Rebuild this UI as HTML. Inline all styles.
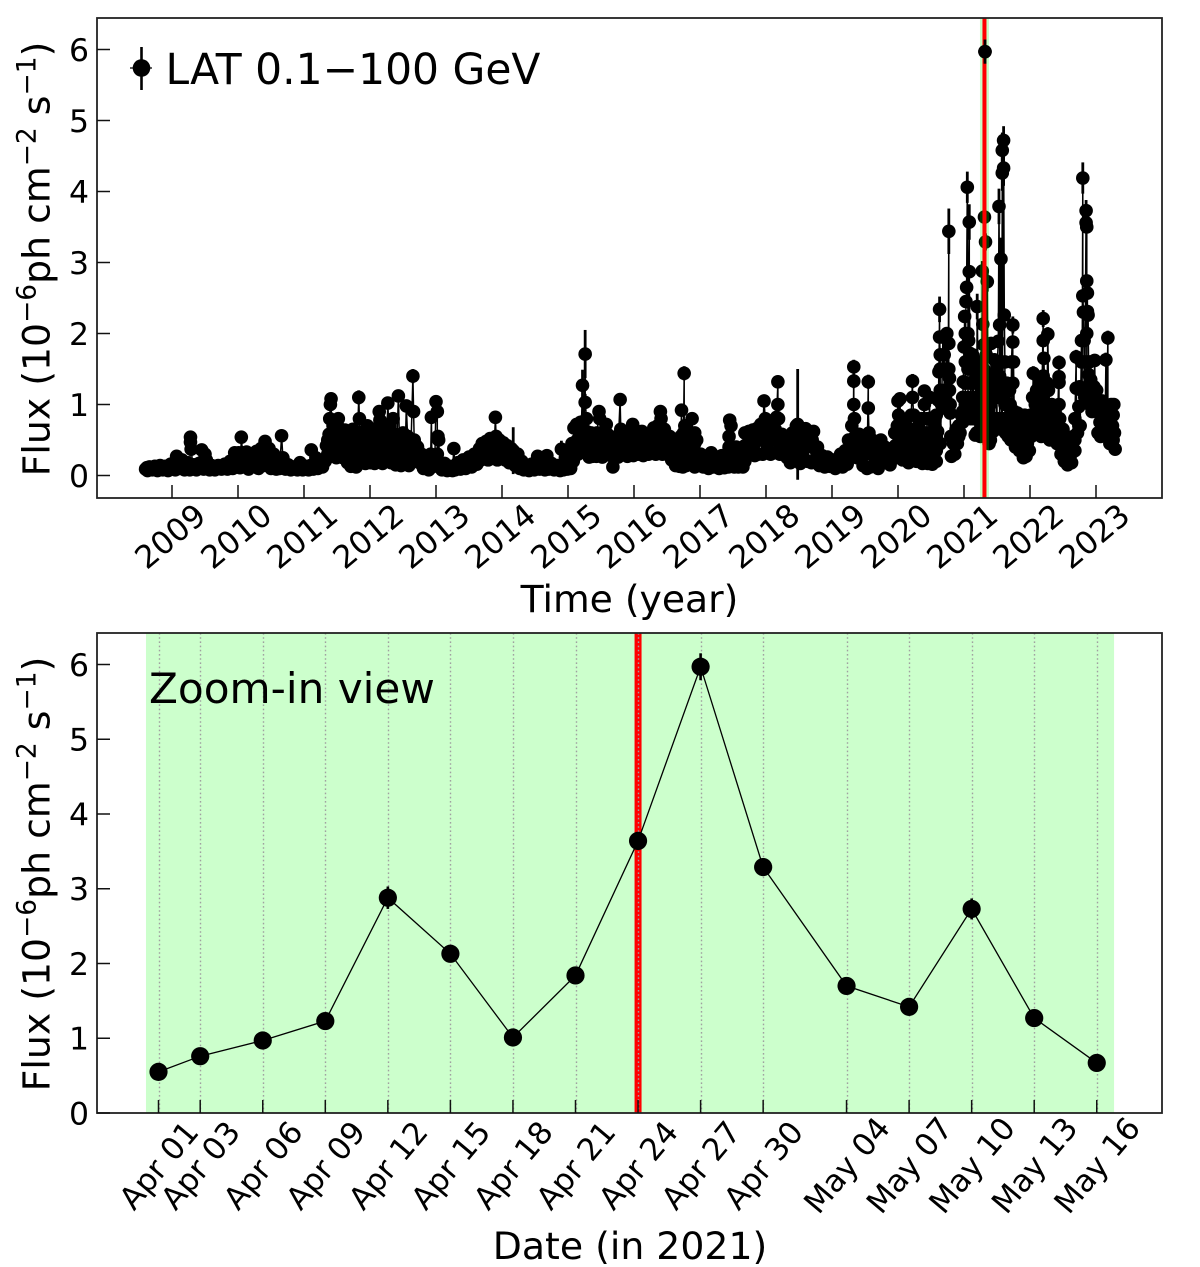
<!DOCTYPE html>
<html lang="en">
<head>
<meta charset="utf-8">
<title>LAT light curve</title>
<style>
html,body{margin:0;padding:0;background:#fff;}
svg{display:block;}
text{font-family:"DejaVu Sans","Liberation Sans",sans-serif;fill:#000;}
</style>
</head>
<body>
<svg id="fig" xmlns="http://www.w3.org/2000/svg" width="1200" height="1267" viewBox="0 0 1200 1267">
  <rect x="0" y="0" width="1200" height="1267" fill="#fff"/>
  <g id="top-marks"></g>
  <g id="bottom-marks"></g>
  <g id="axes-layer"></g>

  <g>
    <line x1="130" x2="152" y1="68" y2="68" stroke="#000" stroke-width="1.2"/>
    <line x1="141.5" x2="141.5" y1="47" y2="90" stroke="#000" stroke-width="2.6"/>
    <circle cx="141.5" cy="68" r="8.8" fill="#000"/>
    <text x="165.5" y="84" font-size="42.4">LAT 0.1−100 GeV</text>
  </g>

  <text x="629.5" y="612" font-size="37.7" text-anchor="middle">Time (year)</text>
  <text transform="translate(49.5,259) rotate(-90)" font-size="37.8" text-anchor="middle">Flux (10<tspan font-size="26.5" dy="-14">−6</tspan><tspan dy="14">ph cm</tspan><tspan font-size="26.5" dy="-14">−2</tspan><tspan dy="14"> s</tspan><tspan font-size="26.5" dy="-14">−1</tspan><tspan dy="14">)</tspan></text>

  <text x="149" y="703" font-size="42.2">Zoom-in view</text>
  <text x="630" y="1259" font-size="37.8" text-anchor="middle">Date (in 2021)</text>
  <text transform="translate(49.5,874) rotate(-90)" font-size="37.8" text-anchor="middle">Flux (10<tspan font-size="26.5" dy="-14">−6</tspan><tspan dy="14">ph cm</tspan><tspan font-size="26.5" dy="-14">−2</tspan><tspan dy="14"> s</tspan><tspan font-size="26.5" dy="-14">−1</tspan><tspan dy="14">)</tspan></text>
</svg>

<script>
// ---- Top panel data: [fraction of year, flux, optional error] ----
const lc2008 = [[.60,.09],[.63,.07],[.66,.12],[.70,.08],[.74,.13],[.78,.07],[.82,.14],[.86,.08],[.90,.13],[.94,.07],[.98,.16],[.62,.11],[.72,.11],[.82,.10],[.92,.11]];
const lc2009 = [[.03,.17],[.05,.08],[.07,.27],[.11,.10],[.15,.22],[.19,.08],[.23,.18],[.27,.08],[.28,.54,.06],[.28,.47],[.29,.37],[.33,.15],[.37,.08],[.41,.17],[.45,.36],[.48,.09],[.50,.30],[.53,.16],[.57,.08],[.60,.14],[.65,.08],[.70,.14],[.75,.09],[.80,.16],[.84,.09],[.88,.20],[.92,.10],[.95,.32],[.98,.12],[.02,.12],[.12,.15],[.22,.13],[.32,.12],[.42,.12],[.47,.20],[.52,.22],[.62,.11],[.72,.11],[.82,.12],[.90,.14],[.95,.20],[.99,.22]];
const lc2010 = [[.01,.32],[.03,.11],[.05,.54,.06],[.07,.32],[.10,.12],[.13,.33],[.16,.09],[.20,.30],[.24,.14],[.28,.34],[.31,.10],[.35,.38],[.38,.14],[.41,.48],[.44,.16],[.47,.38],[.50,.10],[.54,.30],[.58,.09],[.60,.24],[.63,.10],[.66,.56,.06],[.68,.25],[.72,.09],[.76,.15],[.80,.08],[.85,.12],[.90,.08],[.94,.18],[.98,.08],[.04,.20],[.12,.21],[.20,.20],[.28,.20],[.36,.25],[.42,.33],[.46,.28],[.50,.22],[.56,.20],[.62,.15],[.70,.13],[.78,.11],[.86,.11],[.94,.12]];
const lc2011 = [[.03,.13],[.07,.08],[.11,.36,.04],[.14,.09],[.18,.25],[.21,.10],[.25,.20],[.28,.12],[.32,.20],[.34,.42],[.36,.25],[.38,.58],[.39,.80],[.40,1.0],[.41,1.08,.09],[.42,.60],[.44,.28],[.47,.45],[.49,.25],[.52,.80],[.54,.32],[.57,.62],[.59,.25],[.62,.64],[.64,.40],[.66,.18],[.69,.50],[.71,.13],[.74,.65],[.76,.30],[.79,.12],[.81,.60],[.83,1.10,.10],[.84,.80],[.86,.40],[.88,.20],[.91,.62],[.93,.17],[.96,.70],[.98,.35],[.02,.10],[.10,.14],[.20,.16],[.28,.16],[.36,.30],[.36,.50],[.44,.35],[.44,.55],[.44,.70],[.52,.38],[.52,.55],[.52,.68],[.60,.32],[.60,.48],[.68,.20],[.68,.35],[.68,.52],[.76,.20],[.76,.38],[.76,.55],[.84,.22],[.84,.40],[.84,.60],[.92,.30],[.92,.45],[.98,.22],[.98,.50]];
const lc2012 = [[.01,.18],[.03,.65],[.05,.40],[.07,.17],[.10,.60],[.12,.30],[.14,.90],[.15,.78],[.17,.40],[.19,.17],[.22,.70],[.25,.35],[.27,1.02,.09],[.29,.60],[.32,.18],[.35,.80],[.37,.40],[.39,.15],[.41,.55],[.43,1.12,.09],[.45,.35],[.47,.14],[.50,.60],[.53,.30],[.55,.98,.09],[.57,.55],[.59,.14],[.62,.50],[.65,1.40,.10],[.66,.90],[.67,.50],[.69,.22],[.72,.40],[.75,.18],[.78,.30],[.81,.10],[.85,.18],[.89,.08],[.92,.30],[.93,.82,.08],[.95,.13],[.98,.15],[.06,.24],[.06,.40],[.06,.55],[.14,.24],[.14,.40],[.14,.55],[.14,.70],[.22,.24],[.22,.40],[.22,.55],[.30,.24],[.30,.40],[.30,.55],[.30,.70],[.38,.24],[.38,.40],[.38,.58],[.46,.24],[.46,.40],[.46,.55],[.54,.24],[.54,.40],[.54,.55],[.62,.24],[.62,.38],[.70,.30],[.70,.42],[.78,.20],[.86,.12],[.94,.12]];
const lc2013 = [[.00,1.04,.09],[.02,.90],[.03,.55],[.04,.50],[.06,.15],[.09,.08],[.13,.17],[.17,.07],[.21,.13],[.25,.07],[.27,.38,.05],[.29,.08],[.33,.18],[.37,.09],[.41,.22],[.45,.10],[.50,.26],[.54,.12],[.58,.30],[.62,.16],[.66,.38],[.68,.22],[.70,.45],[.73,.24],[.76,.48],[.79,.22],[.82,.52],[.85,.24],[.88,.45],[.90,.82,.07],[.91,.55],[.93,.22],[.96,.50],[.99,.24],[.02,.30],[.08,.12],[.18,.10],[.30,.10],[.40,.14],[.48,.16],[.56,.20],[.64,.26],[.72,.35],[.80,.35],[.88,.33],[.96,.36]];
const lc2014 = [[.02,.46],[.05,.22],[.08,.42],[.11,.18],[.14,.38],[.17,.35,.33],[.20,.14],[.24,.30],[.27,.10],[.30,.20],[.33,.08],[.37,.13],[.41,.07],[.45,.16],[.49,.08],[.54,.27],[.57,.09],[.61,.18],[.65,.08],[.68,.28],[.71,.09],[.75,.17],[.79,.08],[.84,.14],[.88,.07],[.90,.37,.12],[.93,.08],[.96,.25],[.99,.09],[.04,.33],[.12,.27],[.20,.20],[.28,.18],[.36,.10],[.46,.11],[.56,.16],[.66,.16],[.74,.12],[.84,.10],[.94,.14]];
const lc2015 = [[.02,.28],[.04,.10],[.06,.45],[.08,.20],[.09,.67],[.11,.32],[.13,.72],[.15,.30],[.17,.50],[.19,.75],[.22,1.27,.22],[.24,.40],[.26,1.71,.34],[.26,1.03,.12],[.28,.80],[.30,.40],[.32,.26],[.35,.60],[.37,.27],[.40,.55],[.43,.27],[.47,.90,.08],[.48,.80],[.50,.45],[.52,.26],[.56,.60],[.58,.72],[.60,.30],[.62,.55],[.65,.28],[.68,.12],[.71,.40],[.74,.55],[.76,.26],[.79,1.07,.09],[.80,.65],[.83,.30],[.87,.58],[.90,.27],[.94,.50],[.98,.72],[.99,.28],[.08,.25],[.14,.50],[.20,.40],[.20,.60],[.28,.45],[.28,.62],[.36,.42],[.44,.42],[.44,.60],[.52,.42],[.60,.42],[.60,.58],[.68,.30],[.68,.45],[.76,.42],[.84,.42],[.92,.42],[.92,.62],[.98,.45],[.32,.50],[.40,.40],[.56,.44],[.72,.52],[.88,.44]];
const lc2016 = [[.03,.55],[.06,.30],[.10,.58],[.14,.28],[.18,.55],[.22,.30],[.26,.58],[.30,.67],[.33,.30],[.36,.70],[.40,.90,.08],[.41,.80],[.43,.30],[.46,.65],[.50,.30],[.54,.55],[.57,.22],[.60,.45],[.63,.14],[.66,.34],[.69,.13],[.71,.55],[.72,.92],[.73,.30],[.74,.12],[.75,.60],[.76,1.44,.10],[.77,.70],[.79,.14],[.82,.35],[.85,.55],[.88,.80],[.90,.35],[.92,.12],[.95,.50],[.98,.14],[.04,.42],[.04,.62],[.12,.42],[.12,.62],[.20,.42],[.28,.42],[.34,.55],[.36,.42],[.44,.42],[.44,.60],[.52,.42],[.60,.32],[.68,.22],[.76,.30],[.76,.50],[.84,.25],[.84,.45],[.92,.25],[.92,.45],[.92,.60],[.98,.25],[.08,.44],[.16,.42],[.24,.44],[.32,.46],[.48,.44],[.56,.40]];
const lc2017 = [[.01,.30],[.05,.12],[.09,.26],[.13,.10],[.17,.32],[.21,.12],[.25,.26],[.29,.10],[.33,.28],[.37,.11],[.41,.30],[.43,.12],[.44,.55],[.45,.78,.08],[.47,.70],[.49,.30],[.52,.12],[.55,.40],[.58,.12],[.62,.38],[.65,.12],[.68,.60],[.71,.30],[.74,.62],[.77,.30],[.80,.64],[.83,.28],[.86,.66],[.89,.30],[.92,.72],[.95,.30],[.97,1.05,.09],[.99,.80],[.04,.20],[.12,.20],[.20,.20],[.28,.18],[.36,.20],[.44,.22],[.44,.40],[.52,.25],[.60,.25],[.68,.20],[.68,.42],[.76,.45],[.84,.47],[.92,.50],[.95,.62]];
const lc2018 = [[.01,.35],[.04,.75],[.07,.30],[.10,.70],[.13,.32],[.16,.82],[.18,1.32,.09],[.18,1.00],[.19,.80],[.21,.30],[.24,.58],[.26,.32],[.28,.45],[.32,.25],[.35,.50],[.37,.18],[.40,.60],[.43,.25],[.46,.70],[.48,.72,.78],[.50,.30],[.52,.17],[.54,.62],[.57,.25],[.60,.66],[.63,.20],[.66,.62],[.69,.18],[.72,.62],[.75,.22],[.78,.40],[.81,.14],[.85,.28],[.89,.12],[.93,.26],[.97,.13],[.02,.55],[.08,.50],[.14,.55],[.14,.65],[.22,.45],[.30,.32],[.38,.35],[.46,.45],[.46,.55],[.46,.62],[.54,.40],[.54,.50],[.62,.40],[.62,.52],[.70,.40],[.70,.50],[.78,.25],[.86,.20],[.94,.20]];
const lc2019 = [[.01,.22],[.05,.10],[.09,.20],[.13,.30],[.16,.12],[.20,.35],[.23,.16],[.25,.50],[.27,.28],[.30,.70],[.32,.30],[.33,1.53,.10],[.33,1.33,.10],[.33,1.00],[.34,.80],[.35,.55],[.38,.25],[.41,.58],[.44,.25],[.47,.14],[.50,.50],[.53,.10],[.55,1.32,.10],[.55,.95],[.56,.60],[.58,.12],[.61,.50],[.64,.15],[.67,.40],[.70,.10],[.74,.50],[.77,.25],[.80,.40],[.84,.28],[.88,.15],[.92,.35],[.95,.60],[.97,.25],[.99,.70],[.03,.16],[.11,.20],[.18,.23],[.26,.38],[.34,.42],[.42,.40],[.50,.30],[.56,.35],[.60,.30],[.66,.28],[.74,.30],[.82,.30],[.90,.25],[.96,.42]];
const lc2020 = [[.00,1.05],[.01,.85],[.03,1.08],[.05,.40],[.07,.22],[.10,.75],[.13,.35],[.16,.18],[.19,.65],[.22,1.33,.10],[.22,1.10],[.24,.85],[.26,.45],[.28,.20],[.31,.70],[.34,.30],[.37,.17],[.40,1.19,.09],[.40,1.00],[.42,.60],[.45,.17],[.48,1.10],[.50,.30],[.52,.16],[.55,.50],[.58,.20],[.60,.62],[.61,1.06],[.62,1.46],[.63,2.34,.18],[.63,1.95],[.64,1.70],[.66,1.00],[.68,1.95],[.70,1.50],[.72,1.10],[.74,2.00],[.77,3.44,.32],[.77,1.86],[.77,1.50],[.78,1.37],[.78,1.20],[.79,1.00],[.79,.88],[.80,.55],[.81,.27],[.84,.45],[.86,.30],[.88,.65],[.90,.45],[.92,.70],[.94,.60],[.96,.85],[.98,.75],[.99,1.32],[.04,.60],[.04,.80],[.12,.22],[.12,.55],[.20,.30],[.20,.50],[.20,.85],[.28,.40],[.28,.65],[.36,.30],[.36,.50],[.36,.80],[.44,.30],[.44,.55],[.44,.80],[.52,.30],[.52,.50],[.52,.80],[.58,.35],[.58,.55],[.58,.85],[.64,1.20],[.64,1.50],[.70,1.20],[.70,1.70],[.76,1.20],[.86,.50],[.92,.55],[.98,.90],[.98,1.10],[.08,.50],[.16,.40],[.24,.60],[.32,.50],[.40,.45],[.48,.55],[.56,.70],[.64,.45],[.70,.95],[.74,1.50]];
const lc2021 = [[.00,1.81],[.01,2.24],[.02,2.00],[.03,2.45],[.04,2.65],[.05,4.06,.22],[.06,2.00],[.07,1.90],[.08,3.57,.25],[.08,2.87],[.09,1.72],[.10,1.30],[.12,.85],[.13,1.70],[.15,1.10],[.17,.57],[.18,1.40],[.19,.60],[.20,2.38,.18],[.21,1.60],[.22,1.00],[.23,1.30],[.24,.60],[.247,.55],[.252,.76],[.26,.97],[.268,1.23],[.277,2.88,.14],[.285,2.13,.1],[.293,1.01],[.301,1.84,.1],[.31,3.64,.14],[.318,5.97,.17],[.326,3.29,.12],[.337,1.70],[.345,1.42],[.353,2.73,.14],[.362,1.27],[.37,.67],[.38,.45],[.39,1.00],[.40,.50],[.41,1.86],[.42,1.20],[.44,.62],[.46,1.63],[.48,1.10],[.50,.70],[.52,1.89],[.53,3.79,.25],[.54,2.12],[.56,3.05,.30],[.56,1.60],[.57,.65],[.58,4.26,.25],[.58,4.58,.25],[.60,4.33,.25],[.60,4.72,.20],[.61,2.26],[.62,1.60],[.63,.60],[.65,1.30],[.67,.55],[.69,1.20],[.71,.50],[.72,1.60],[.74,2.12,.12],[.74,1.88],[.75,1.60],[.76,.90],[.78,.40],[.81,.88],[.84,.35],[.87,.85],[.90,.25],[.92,.85],[.94,.27],[.97,.82],[.99,.35],[.02,1.00],[.02,1.30],[.02,1.60],[.06,1.10],[.06,1.50],[.10,.80],[.10,1.00],[.14,.80],[.14,1.05],[.14,1.30],[.18,.80],[.18,1.00],[.22,.80],[.26,.80],[.26,1.10],[.26,1.50],[.30,.90],[.30,1.20],[.30,1.50],[.34,1.10],[.34,.80],[.38,.75],[.38,1.10],[.42,.80],[.42,1.40],[.46,.80],[.46,1.30],[.50,.80],[.50,1.20],[.50,1.50],[.54,.80],[.54,1.10],[.54,1.40],[.58,.80],[.58,1.10],[.62,.80],[.62,1.00],[.62,1.30],[.66,.70],[.66,1.00],[.70,.70],[.70,1.00],[.74,1.30],[.74,.85],[.78,.60],[.78,.80],[.84,.55],[.84,.70],[.90,.45],[.90,.65],[.96,.45],[.96,.65]];
const lc2022 = [[.01,.85],[.03,.60],[.04,1.10],[.05,1.44,.10],[.07,.70],[.10,1.20],[.12,.60],[.15,1.30],[.17,.55],[.20,2.21,.12],[.20,1.90],[.21,1.65],[.22,1.30],[.24,.60],[.27,1.99,.1],[.28,1.20],[.30,.50],[.33,1.00],[.35,.55],[.38,.90],[.41,.45],[.44,1.59,.1],[.44,1.39],[.44,1.31],[.45,.80],[.47,.30],[.50,.65],[.52,.20],[.55,.55],[.57,.15],[.60,.50],[.63,.18],[.66,.55],[.68,.35],[.70,1.67,.1],[.70,1.23],[.72,.60],[.74,.97],[.75,1.25],[.76,.70],[.78,1.90],[.79,1.20],[.80,4.19,.22],[.80,2.53],[.81,2.30],[.82,1.60],[.83,1.10],[.85,3.73,.15],[.85,3.56],[.86,3.50],[.86,2.74],[.87,2.57],[.87,2.31],[.88,2.26],[.89,1.42],[.90,1.00],[.92,1.35],[.94,.90],[.97,1.25],[.98,1.62],[.99,1.00],[.02,.55],[.02,.70],[.08,.80],[.08,1.00],[.14,.70],[.14,.90],[.14,1.10],[.20,.80],[.20,1.10],[.20,1.40],[.26,.70],[.26,1.00],[.26,1.30],[.32,.65],[.32,.85],[.38,.60],[.38,.75],[.44,.50],[.44,.70],[.44,1.00],[.50,.40],[.56,.30],[.56,.40],[.62,.30],[.68,.50],[.68,.80],[.74,.70],[.78,1.20],[.78,1.60],[.82,1.20],[.82,1.90],[.86,1.20],[.86,1.60],[.86,2.00],[.90,1.20],[.90,1.60],[.94,1.10]];
const lc2023 = [[.01,1.20],[.03,.60],[.05,1.00],[.07,.55],[.09,1.05],[.12,.60],[.15,1.63,.1],[.16,.95],[.18,1.94,.1],[.19,.85],[.21,.45],[.23,1.00],[.25,.70],[.27,1.00],[.28,.60],[.29,.37],[.02,.90],[.06,.75],[.10,.80],[.10,.70],[.14,.80],[.18,.65],[.22,.70],[.22,.85],[.26,.50],[.26,.85]];
const yearKeys = [2008,2009,2010,2011,2012,2013,2014,2015,2016,2017,2018,2019,2020,2021,2022,2023];
const yearSeries = [lc2008,lc2009,lc2010,lc2011,lc2012,lc2013,lc2014,lc2015,lc2016,lc2017,lc2018,lc2019,lc2020,lc2021,lc2022,lc2023];
const typicalError = 0.03;

// ---- Bottom panel data ----
const zoomDayLabels = ["Apr 01","Apr 03","Apr 06","Apr 09","Apr 12","Apr 15","Apr 18","Apr 21","Apr 24","Apr 27","Apr 30","May 04","May 07","May 10","May 13","May 16"];
const zoomDays = [0,2,5,8,11,14,17,20,23,26,29,33,36,39,42,45];
const zoomFlux = [0.55,0.76,0.97,1.23,2.88,2.13,1.01,1.84,3.64,5.97,3.29,1.70,1.42,2.73,1.27,0.67];
const zoomErr = [0.05,0.06,0.06,0.07,0.15,0.10,0.07,0.09,0.12,0.18,0.12,0.08,0.07,0.14,0.07,0.05];
const flareDay = 23;
const flareTime = 2021.31;
const peakFlux = 5.97;

// ---- Ticks ----
const yearTicks = [2009,2010,2011,2012,2013,2014,2015,2016,2017,2018,2019,2020,2021,2022,2023];
const fluxTicks = [0,1,2,3,4,5,6];

// ---- Axis functions ----
const topAxes = {l:97,r:1162,t:18,b:498};
const botAxes = {l:97,r:1162,t:633,b:1113};
const xTop = t => 172 + (t - 2009) * 66;
const yTop = f => 475.5 - f * 71;
const xBot = d => 158.5 + d * 20.85;
const yBot = f => 1113 - f * 74.75;

const NS = 'http://www.w3.org/2000/svg';
function mk(parent, tag, attrs) {
  const el = document.createElementNS(NS, tag);
  for (const k in attrs) el.setAttribute(k, attrs[k]);
  parent.appendChild(el);
  return el;
}

// ---- Top panel ----
const topG = document.getElementById('top-marks');
const topPts = [];
yearSeries.forEach((arr, i) => arr.forEach(p => topPts.push({t: yearKeys[i] + p[0], f: p[1], e: p.length > 2 ? p[2] : typicalError})));
topPts.sort((a, b) => a.t - b.t);

const topLine = mk(topG, 'polyline', {points: topPts.map(p => xTop(p.t).toFixed(1) + ',' + yTop(p.f).toFixed(1)).join(' '), fill: 'none', stroke: '#000', 'stroke-width': 1.5});



topPts.forEach(p => {
  const bar = mk(topG, 'line', {x1: xTop(p.t), x2: xTop(p.t), y1: yTop(p.f - p.e), y2: yTop(p.f + p.e), stroke: '#000', 'stroke-width': 2.8});
  
  
  const dot = mk(topG, 'circle', {cx: xTop(p.t), cy: yTop(p.f), r: 6.8, fill: '#000'});
  
  
});

const topSpan = mk(topG, 'rect', {x: xTop(flareTime) - 4.5, y: topAxes.t, width: 9, height: topAxes.b - topAxes.t, fill: '#00ff00', 'fill-opacity': 0.22});


const topRed = mk(topG, 'line', {x1: xTop(flareTime), x2: xTop(flareTime), y1: topAxes.t, y2: topAxes.b, stroke: '#ff0000', 'stroke-width': 4});


const peakBar = mk(topG, 'line', {x1: xTop(flareTime + 0.008), x2: xTop(flareTime + 0.008), y1: yTop(peakFlux - 0.17), y2: yTop(peakFlux + 0.17), stroke: '#000', 'stroke-width': 2.8});


const peakDot = mk(topG, 'circle', {cx: xTop(flareTime + 0.008), cy: yTop(peakFlux), r: 6.8, fill: '#000'});



// ---- Bottom panel ----
const botG = document.getElementById('bottom-marks');
const botSpan = mk(botG, 'rect', {x: xBot(-0.6), y: botAxes.t, width: xBot(45.83) - xBot(-0.6), height: botAxes.b - botAxes.t, fill: '#ccffcc'});


const botRed = mk(botG, 'line', {x1: xBot(flareDay), x2: xBot(flareDay), y1: botAxes.t, y2: botAxes.b, stroke: '#ff0000', 'stroke-width': 7});


zoomDays.forEach(d => {
  const g = mk(botG, 'line', {x1: Math.round(xBot(d)) + 0.5, x2: Math.round(xBot(d)) + 0.5, y1: botAxes.t, y2: botAxes.b, stroke: '#a0a0a0', 'stroke-width': 1.4, 'stroke-dasharray': '1.6 2.6'});
  
  
});
const botLine = mk(botG, 'polyline', {points: zoomDays.map((d, i) => xBot(d) + ',' + yBot(zoomFlux[i])).join(' '), fill: 'none', stroke: '#000', 'stroke-width': 1.3});


zoomDays.forEach((d, i) => {
  const bar = mk(botG, 'line', {x1: xBot(d), x2: xBot(d), y1: yBot(zoomFlux[i] - zoomErr[i]), y2: yBot(zoomFlux[i] + zoomErr[i]), stroke: '#000', 'stroke-width': 2.6});
  
  
  const dot = mk(botG, 'circle', {cx: xBot(d), cy: yBot(zoomFlux[i]), r: 9.1, fill: '#000'});
  
  
});

// ---- Axes ----
const ax = document.getElementById('axes-layer');
[topAxes, botAxes].forEach(a => {
  const frame = mk(ax, 'rect', {x: a.l, y: a.t, width: a.r - a.l, height: a.b - a.t, fill: 'none', stroke: '#222', 'stroke-width': 1.8});
  
  
});
fluxTicks.forEach(v => {
  [[topAxes, yTop], [botAxes, yBot]].forEach(pair => {
    const a = pair[0], fn = pair[1];
    const tick = mk(ax, 'line', {x1: a.l, x2: a.l + 13, y1: fn(v), y2: fn(v), stroke: '#111', 'stroke-width': 1.5});
    
    
    const lab = mk(ax, 'text', {x: 89, y: fn(v) + 11.3, 'font-size': 31.5, 'text-anchor': 'end'});
    
    
    lab.textContent = String(v);
  });
});
yearTicks.forEach(y => {
  const x = xTop(y);
  const tick = mk(ax, 'line', {x1: x, x2: x, y1: topAxes.b - 13, y2: topAxes.b, stroke: '#111', 'stroke-width': 1.5});
  
  
  const lab = mk(ax, 'text', {transform: 'translate(' + (x - 2) + ',536) rotate(-40)', 'font-size': 31.5, 'text-anchor': 'middle', dy: '0.36em'});
  
  
  lab.textContent = String(y);
});
zoomDays.forEach((d, i) => {
  const x = xBot(d);
  const tick = mk(ax, 'line', {x1: x, x2: x, y1: botAxes.b - 13, y2: botAxes.b, stroke: '#111', 'stroke-width': 1.5});
  
  
  const lab = mk(ax, 'text', {transform: 'translate(' + x + ',1165) rotate(-50)', 'font-size': 31, 'text-anchor': 'middle', dy: '0.36em'});
  
  
  lab.textContent = zoomDayLabels[i];
});
</script>
</body>
</html>
